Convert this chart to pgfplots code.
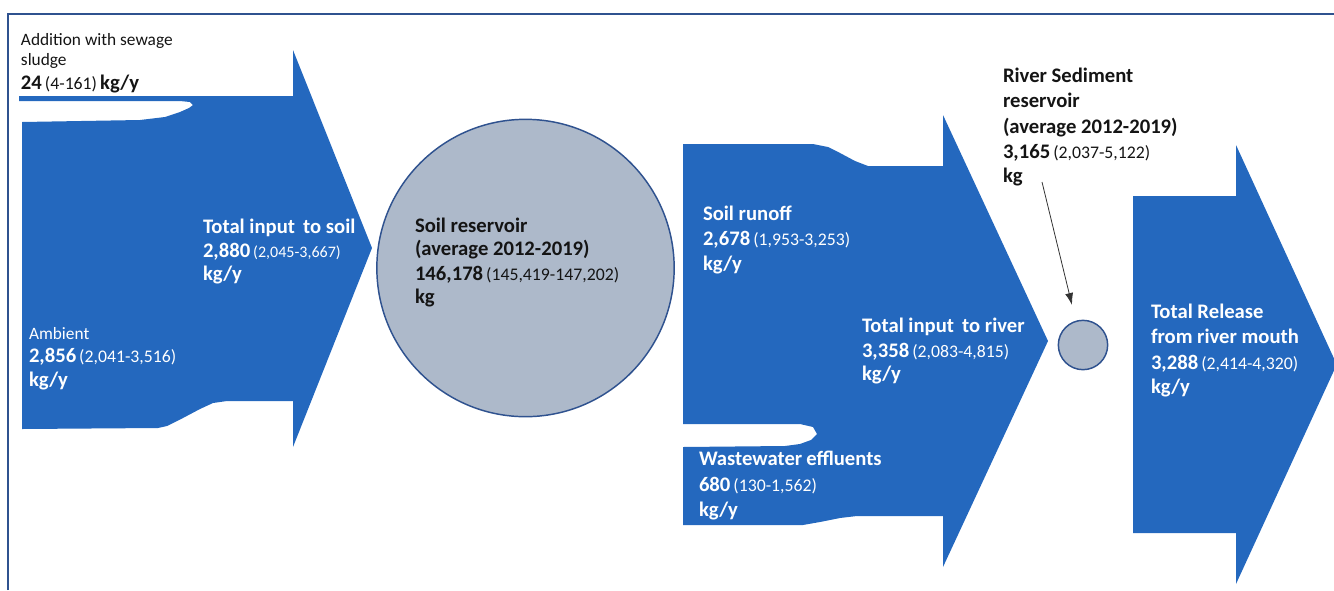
\documentclass[border=0pt]{standalone}
\usepackage{pgfplots}
\pgfplotsset{compat=1.18}
\usepackage{fontspec}
\setmainfont{Carlito}
\usetikzlibrary{arrows.meta}
\definecolor{flowblue}{HTML}{2468BE}
\definecolor{resgray}{HTML}{ADB9CA}
\definecolor{edgeblue}{HTML}{2F528F}
\definecolor{txt}{HTML}{141414}
\newcommand\B{\fontsize{15.5}{18}\selectfont\bfseries}
\newcommand\Sm{\fontsize{13.3}{15}\selectfont\mdseries}
\newcommand\Ss{\fontsize{12}{14}\selectfont\mdseries}
\newcommand\R{\fontsize{13}{16}\selectfont\mdseries}
\tikzset{lbl/.style={anchor=base west, inner sep=0pt, outer sep=0pt}}
\begin{document}
\begin{tikzpicture}
\begin{axis}[
  scale only axis, width=1000.5pt, height=442.5pt,
  xmin=0, xmax=1334, ymin=0, ymax=590, y dir=reverse,
  hide axis, clip=true, clip marker paths=true
]
% full extent (keeps the picture the size of the axis)
\addplot[draw=none, forget plot] coordinates {(0,0) (1334,590)};
% frame
\addplot[draw=edgeblue, line width=1.1pt] coordinates {(8,590) (8,14) (1334,14)};
% arrow 1: input to soil
\addplot[fill=flowblue, draw=none] coordinates {
 (19,96) (293,96) (293,50) (372,248) (293,447) (293,401) (227,401) (213,403)
 (200,409) (183,418) (167,426) (158,428) (22,429) (22,122) (140,120) (165,117)
 (180,112) (189,108) (193,105) (190,102) (180,101) (19,101)} --cycle;
% arrow 2: input to river
\addplot[fill=flowblue, draw=none] coordinates {
 (683,144) (813,144) (828,147) (840,153) (855,161) (868,166) (943,166) (943,115)
 (1048,341) (943,567) (943,516) (857,516) (840,518) (820,522) (803,525) (683,525)
 (683,447) (785,446) (800,444) (811,440) (817,434) (813,427) (800,424) (683,424)} --cycle;
% arrow 3: release
\addplot[fill=flowblue, draw=none] coordinates {
 (1133,196) (1236,196) (1236,145) (1334,358.5) (1334,370.5) (1236,584) (1236,533) (1133,533)} --cycle;
% reservoirs
\addplot[only marks, mark=*, mark size=111.5pt,
  mark options={fill=resgray, draw=edgeblue, line width=1.1pt}] coordinates {(525.5,268)};
\addplot[only marks, mark=*, mark size=18.5pt,
  mark options={fill=resgray, draw=edgeblue, line width=1.1pt}] coordinates {(1083,345)};
% pointer
\addplot[draw=black!80, line width=0.6pt, -{Latex[length=9pt,width=6pt]}] coordinates {(1042,182) (1072,305)};
% texts
\node[lbl, text=txt] at (axis cs:21,45) {\R Addition with sewage};
\node[lbl, text=txt] at (axis cs:21,65) {\R sludge};
\node[lbl, text=txt] at (axis cs:21,89) {{\B 24} {\Sm (4-161)} {\B kg/y}};

\node[lbl, text=white] at (axis cs:29,339) {\R Ambient};
\node[lbl, text=white] at (axis cs:29,362) {{\B 2,856} {\Sm (2,041-3,516)}};
\node[lbl, text=white] at (axis cs:29,386) {\B kg/y};

\node[lbl, text=white] at (axis cs:203,233) {\B Total input\, to soil};
\node[lbl, text=white] at (axis cs:203,257) {{\B 2,880} {\Ss (2,045-3,667)}};
\node[lbl, text=white] at (axis cs:203,280) {\B kg/y};

\node[lbl, text=txt] at (axis cs:415,232) {\B Soil reservoir};
\node[lbl, text=txt] at (axis cs:415,255) {\B (average 2012-2019)};
\node[lbl, text=txt] at (axis cs:415,280) {{\B 146,178} {\Sm (145,419-147,202)}};
\node[lbl, text=txt] at (axis cs:415,303) {\B kg};

\node[lbl, text=white] at (axis cs:703,220) {\B Soil runoff};
\node[lbl, text=white] at (axis cs:703,245) {{\B 2,678} {\Sm (1,953-3,253)}};
\node[lbl, text=white] at (axis cs:703,270) {\B kg/y};

\node[lbl, text=white] at (axis cs:862,332) {\B Total input\, to river};
\node[lbl, text=white] at (axis cs:862,357) {{\B 3,358} {\Sm (2,083-4,815)}};
\node[lbl, text=white] at (axis cs:862,380) {\B kg/y};

\node[lbl, text=white] at (axis cs:699,465) {\B Wastewater\kern-0.5pt\ effluents};
\node[lbl, text=white] at (axis cs:699,491) {{\B 680} {\Sm (130-1,562)}};
\node[lbl, text=white] at (axis cs:699,516) {\B kg/y};

\node[lbl, text=txt] at (axis cs:1003,82) {\B River Sediment};
\node[lbl, text=txt] at (axis cs:1003,107) {\B reservoir};
\node[lbl, text=txt] at (axis cs:1003,133) {\B (average 2012-2019)};
\node[lbl, text=txt] at (axis cs:1003,158) {{\B 3,165} {\Sm (2,037-5,122)}};
\node[lbl, text=txt] at (axis cs:1003,182) {\B kg};

\node[lbl, text=white] at (axis cs:1151,318) {\B Total Release};
\node[lbl, text=white] at (axis cs:1151,343) {\B from river mouth};
\node[lbl, text=white] at (axis cs:1151,369) {{\B 3,288} {\Sm (2,414-4,320)}};
\node[lbl, text=white] at (axis cs:1151,393) {\B kg/y};
\end{axis}
\end{tikzpicture}
\end{document}
